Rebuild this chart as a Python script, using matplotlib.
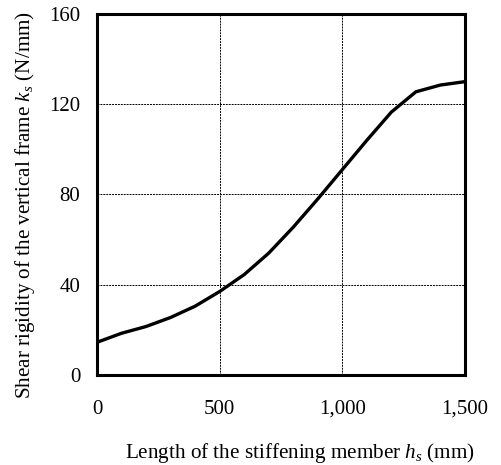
import matplotlib
matplotlib.use("Agg")
import matplotlib.pyplot as plt

plt.rcParams['font.family'] = ['Liberation Serif', 'DejaVu Serif']
plt.rcParams['mathtext.fontset'] = 'custom'
plt.rcParams['mathtext.it'] = 'Liberation Serif:italic'
plt.rcParams['mathtext.rm'] = 'Liberation Serif'

length_mm = [0, 100, 200, 300, 400, 500, 600, 700, 800, 900, 1000, 1100, 1200, 1300, 1400, 1500]
rigidity = [14.5, 18.5, 21.5, 25.5, 30.5, 37, 44.5, 54, 65.5, 78, 91, 104, 116.5, 125.5, 128.5, 130]
x_ticks = [0, 500, 1000, 1500]
x_tick_labels = ["0", "500", "1,000", "1,500"]
y_ticks = [0, 40, 80, 120, 160]

fig = plt.figure(figsize=(5.01, 4.65), dpi=100)
ax = fig.add_axes([0.1936, 0.1935, 0.928 - 0.1936, 0.970 - 0.1935])
ax.plot(length_mm, rigidity, color='black', linewidth=2.4, solid_joinstyle='round')
ax.set_xlim(0, 1500)
ax.set_ylim(0, 160)
ax.set_xticks(x_ticks)
ax.set_xticklabels(x_tick_labels)
ax.set_yticks(y_ticks)
ax.tick_params(axis='both', length=0, labelsize=15)
ax.tick_params(axis='x', pad=18)
ax.tick_params(axis='y', pad=12)
ax.grid(True, color='black', linestyle=(0, (2, 1)), linewidth=0.7)
for s in ax.spines.values():
    s.set_linewidth(2.2)
ax.set_xlabel(r'Length of the stiffening member $h_s$ (mm)', fontsize=15.2)
ax.set_ylabel(r'Shear rigidity of the vertical frame $k_s$ (N/mm)', fontsize=15.2)
ax.xaxis.label.set_va('center')
ax.yaxis.label.set_va('center')
ax.xaxis.set_label_coords(0.552, -0.216)
ax.yaxis.set_label_coords(-0.196, 0.47)
fig.savefig('out.png', dpi=100)
